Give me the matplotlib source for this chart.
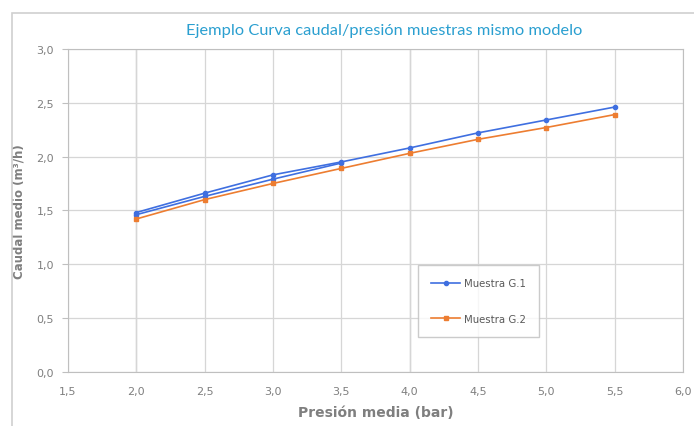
import matplotlib.pyplot as plt
from matplotlib.patches import Rectangle
from matplotlib.ticker import FuncFormatter

# Data
presion = [2.0, 2.5, 3.0, 3.5, 4.0, 4.5, 5.0, 5.5]
muestra_g1 = [1.48, 1.66, 1.83, 1.95, 2.08, 2.22, 2.34, 2.46]
muestra_g2 = [1.42, 1.60, 1.75, 1.89, 2.03, 2.16, 2.27, 2.39]
# extra unlabeled series visible between the two at low pressure
presion_extra = [2.0, 2.5, 3.0, 3.5]
muestra_extra = [1.46, 1.63, 1.79, 1.94]

blue = "#3f6fe0"
orange = "#ed7d31"
grey_txt = "#7f7f7f"

fig = plt.figure(figsize=(6.94, 4.27), dpi=100)
ax = fig.add_axes([0.098, 0.127, 0.886, 0.756])

# outer chart border
fig.patches.append(Rectangle((0.017, -0.05), 1.1, 1.017, transform=fig.transFigure,
                             fill=False, edgecolor="#d0d0d0", linewidth=1.2))

ax.plot(presion, muestra_g1, color=blue, marker="o", markersize=3, linewidth=1.2, label="Muestra G.1")
ax.plot(presion_extra, muestra_extra, color=blue, marker="o", markersize=3, linewidth=1.2)
ax.plot(presion, muestra_g2, color=orange, marker="s", markersize=3.5, linewidth=1.2, label="Muestra G.2")

ax.set_xlim(1.5, 6.0)
ax.set_ylim(0.0, 3.0)
ax.set_xticks([1.5, 2.0, 2.5, 3.0, 3.5, 4.0, 4.5, 5.0, 5.5, 6.0])
ax.set_yticks([0.0, 0.5, 1.0, 1.5, 2.0, 2.5, 3.0])
fmt = FuncFormatter(lambda v, p: f"{v:.1f}".replace(".", ","))
ax.xaxis.set_major_formatter(fmt)
ax.yaxis.set_major_formatter(fmt)
ax.tick_params(axis="both", labelsize=8, colors=grey_txt)
ax.tick_params(axis="x", length=0, pad=10)
ax.tick_params(axis="y", length=4, color="#bfbfbf", pad=6)

ax.grid(True, color="#d6d6d6", linewidth=0.9)
ax.set_axisbelow(True)
# the 2,0 and 4,0 gridlines look a bit darker in the reference
for xv in (2.0, 4.0):
    ax.axvline(xv, color="#b5b5b5", linewidth=0.9, zorder=0.5)
for s in ax.spines.values():
    s.set_color("#bfbfbf")

ax.set_xlabel("Presión media (bar)", fontsize=10, fontweight="bold", color=grey_txt, labelpad=7)
ax.set_ylabel("Caudal medio (m³/h)", fontsize=8.5, fontweight="bold", color=grey_txt, labelpad=8)
fig.text(0.553, 0.928, "Ejemplo Curva caudal/presión muestras mismo modelo",
         ha="center", va="center", fontsize=11.8, color="#2a9fd0", family="Lato")

leg = ax.legend(loc="lower left", bbox_to_anchor=(0.569, 0.108), fontsize=7.3,
                labelspacing=2.5, borderpad=1.3, handlelength=2.9, handletextpad=0.3,
                borderaxespad=0, frameon=True, fancybox=False, edgecolor="#bfbfbf")
for t in leg.get_texts():
    t.set_color("#595959")

fig.savefig("out.png", dpi=100)
